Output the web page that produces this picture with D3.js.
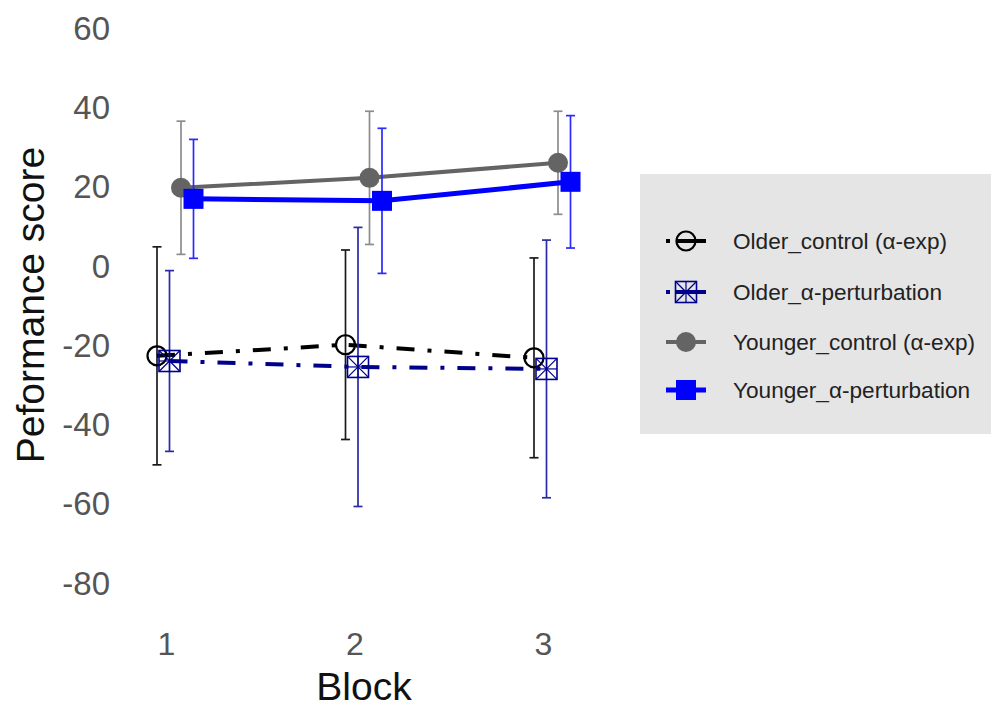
<!DOCTYPE html>
<html>
<head>
<meta charset="utf-8">
<script src="https://cdn.jsdelivr.net/npm/d3@7"></script>
<style>
  html, body { margin: 0; padding: 0; background: #fff; }
  svg { display: block; font-family: "Liberation Sans", Arial, Helvetica, sans-serif; }
</style>
</head>
<body>
<svg id="chart" width="991" height="711"></svg>
<script>
// Performance score per block, mean ± error, four groups
const blocks = [1, 2, 3];
const seriesNames = [
  "Older_control (α-exp)",
  "Older_α-perturbation",
  "Younger_control (α-exp)",
  "Younger_α-perturbation"
];
const olderControlMean = [-22.7, -19.9, -23.2];
const olderControlErr = [27.5, 23.9, 25.2];
const olderPertMean = [-24.0, -25.5, -26.0];
const olderPertErr = [22.8, 35.2, 32.5];
const youngerControlMean = [19.7, 22.2, 26.0];
const youngerControlErr = [16.8, 16.8, 13.0];
const youngerPertMean = [16.9, 16.4, 21.2];
const youngerPertErr = [15.0, 18.3, 16.7];
const yTicks = [60, 40, 20, 0, -20, -40, -60, -80];

// Visual styling of each group
const styles = [
  { line: "#000000", width: 4, dash: "18,13,4,13", bar: "#1a1a1a", marker: "openCircle", dodge: -9 },
  { line: "#00008b", width: 4, dash: "18,13,4,13", bar: "#2a2aa8", marker: "boxX", dodge: 3.5 },
  { line: "#646464", width: 4, dash: null, bar: "#8c8c8c", marker: "filledCircle", dodge: 15 },
  { line: "#0000ff", width: 5, dash: null, bar: "#2a2aff", marker: "filledSquare", dodge: 27.5 }
];

const series = [
  { name: seriesNames[0], mean: olderControlMean, err: olderControlErr },
  { name: seriesNames[1], mean: olderPertMean, err: olderPertErr },
  { name: seriesNames[2], mean: youngerControlMean, err: youngerControlErr },
  { name: seriesNames[3], mean: youngerPertMean, err: youngerPertErr }
];

const svg = d3.select("#chart");

const x = d3.scaleLinear().domain([1, 3]).range([166, 543]);
const y = d3.scaleLinear().domain([-80, 60]).range([583, 28]);

// Y axis (labels only)
const yAxis = svg.append("g")
  .attr("transform", "translate(110,0)")
  .call(d3.axisLeft(y).tickValues(yTicks).tickSize(0).tickPadding(0).tickFormat(d => String(d)));
yAxis.select(".domain").remove();
yAxis.selectAll("text")
  .attr("font-size", 33)
  .attr("font-family", "Liberation Sans, Arial, sans-serif")
  .attr("fill", "#555555")
  .attr("dy", "0.34em");

// X axis (labels only)
const xAxis = svg.append("g")
  .attr("transform", "translate(0,632)")
  .call(d3.axisBottom(x).tickValues(blocks).tickSize(0).tickPadding(0).tickFormat(d => String(d)));
xAxis.select(".domain").remove();
xAxis.selectAll("text")
  .attr("font-size", 32)
  .attr("font-family", "Liberation Sans, Arial, sans-serif")
  .attr("fill", "#555555");

// Axis titles
svg.append("text")
  .attr("x", 364).attr("y", 700)
  .attr("text-anchor", "middle")
  .attr("font-size", 39)
  .attr("fill", "#111")
  .text("Block");

svg.append("text")
  .attr("transform", "translate(44,305) rotate(-90)")
  .attr("text-anchor", "middle")
  .attr("font-size", 39)
  .attr("fill", "#111")
  .text("Peformance score");

function drawMarker(g, type, cx, cy, color) {
  if (type === "openCircle") {
    g.append("circle").attr("cx", cx).attr("cy", cy).attr("r", 9.5)
      .attr("fill", "none").attr("stroke", color).attr("stroke-width", 2.2);
  } else if (type === "filledCircle") {
    g.append("circle").attr("cx", cx).attr("cy", cy).attr("r", 10)
      .attr("fill", color);
  } else if (type === "filledSquare") {
    g.append("rect").attr("x", cx - 10).attr("y", cy - 10).attr("width", 20).attr("height", 20)
      .attr("fill", color);
  } else if (type === "boxX") {
    const h = 10.5;
    g.append("rect").attr("x", cx - h).attr("y", cy - h).attr("width", 2 * h).attr("height", 2 * h)
      .attr("fill", "none").attr("stroke", color).attr("stroke-width", 1.6);
    const segs = [
      [cx - h, cy - h, cx + h, cy + h],
      [cx - h, cy + h, cx + h, cy - h],
      [cx, cy - h, cx, cy + h],
      [cx - h, cy, cx + h, cy]
    ];
    segs.forEach(s => g.append("line")
      .attr("x1", s[0]).attr("y1", s[1]).attr("x2", s[2]).attr("y2", s[3])
      .attr("stroke", color).attr("stroke-width", 1.2));
  }
}

const line = d3.line().x(d => d.px).y(d => d.py);

series.forEach((s, i) => {
  const st = styles[i];
  const g = svg.append("g");
  const pts = blocks.map((b, j) => ({
    px: x(b) + st.dodge,
    py: y(s.mean[j]),
    top: y(s.mean[j] + s.err[j]),
    bot: y(s.mean[j] - s.err[j])
  }));

  // error bars
  pts.forEach(p => {
    g.append("line").attr("x1", p.px).attr("x2", p.px).attr("y1", p.top).attr("y2", p.bot)
      .attr("stroke", st.bar).attr("stroke-width", 1.7);
    [p.top, p.bot].forEach(cy => g.append("line")
      .attr("x1", p.px - 4.5).attr("x2", p.px + 4.5).attr("y1", cy).attr("y2", cy)
      .attr("stroke", st.bar).attr("stroke-width", 1.7));
  });

  // connecting line
  g.append("path").datum(pts).attr("d", line)
    .attr("fill", "none").attr("stroke", st.line).attr("stroke-width", st.width)
    .attr("stroke-dasharray", st.dash);

  // markers
  pts.forEach(p => drawMarker(g, st.marker, p.px, p.py, st.line));
});

// Legend
const legend = svg.append("g");
legend.append("rect")
  .attr("x", 640).attr("y", 174).attr("width", 351).attr("height", 260)
  .attr("fill", "#e5e5e5");

const legendY = [241, 292, 342, 390];
series.forEach((s, i) => {
  const st = styles[i];
  const ly = legendY[i];
  const g = legend.append("g");
  g.append("line").attr("x1", 666).attr("x2", 706).attr("y1", ly).attr("y2", ly)
    .attr("stroke", st.line).attr("stroke-width", st.width)
    .attr("stroke-dasharray", st.dash ? "4,6,30" : null);
  drawMarker(g, st.marker, 686, ly, st.line);
  g.append("text").attr("x", 733).attr("y", ly).attr("dy", "0.35em")
    .attr("font-size", 22.6).attr("fill", "#222")
    .text(s.name);
});
</script>
</body>
</html>
